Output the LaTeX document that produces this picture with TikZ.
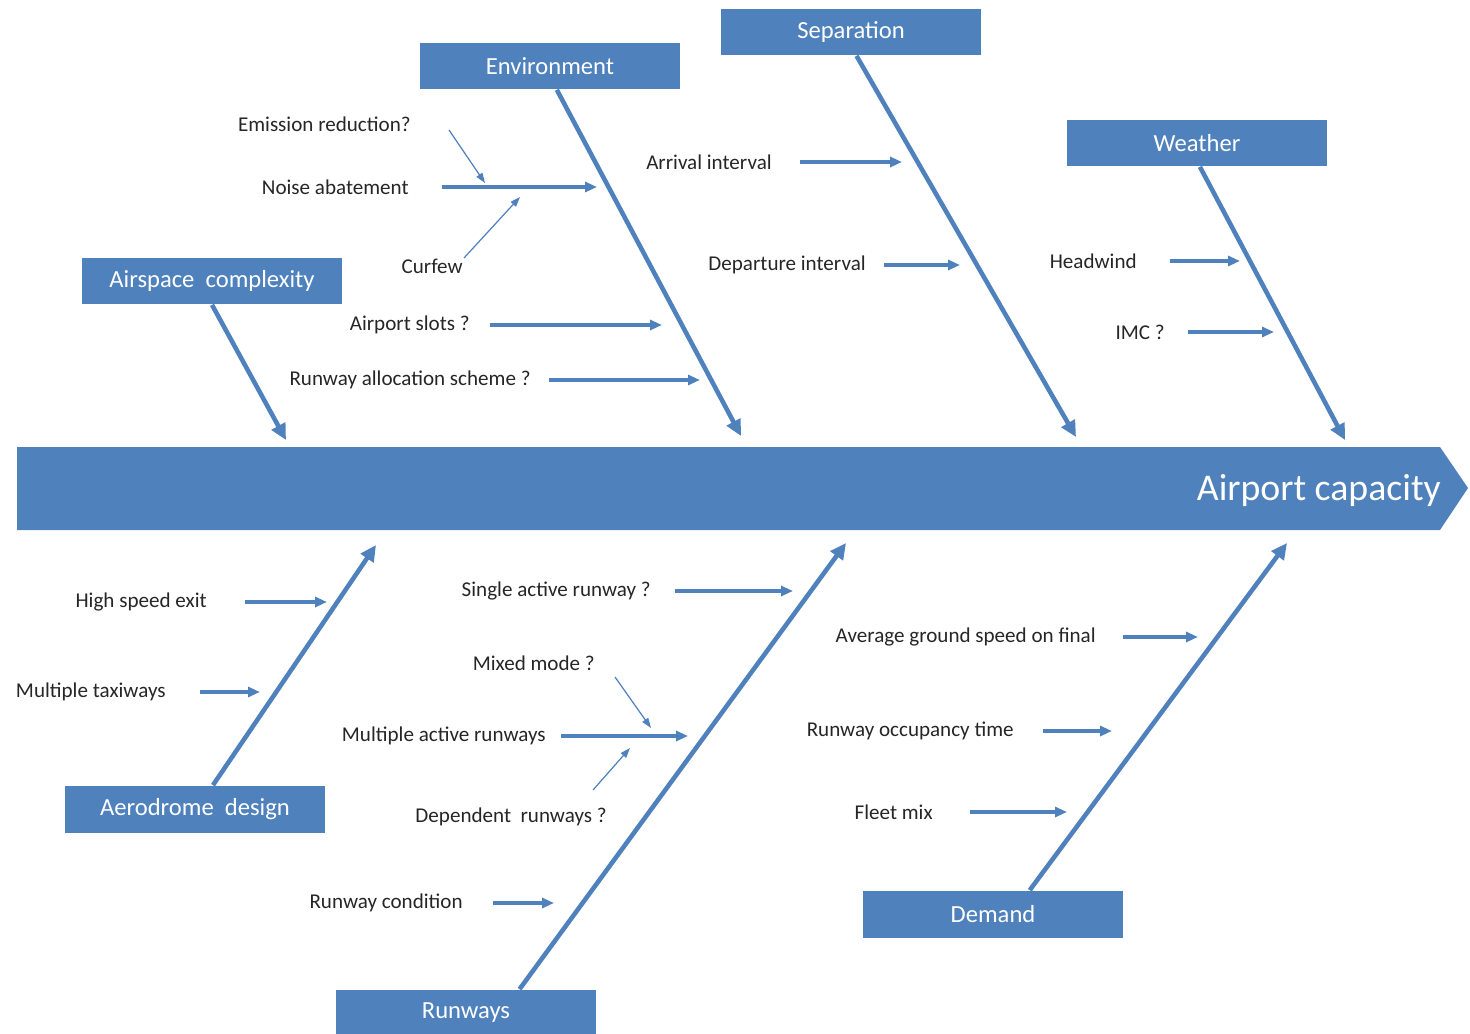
\documentclass[tikz,border=0pt]{standalone}
\usepackage{fontspec}
\setmainfont{Carlito}
\usepackage{tikz}
\usetikzlibrary{arrows.meta,positioning,calc}
\definecolor{fishblue}{HTML}{4F81BD}
\definecolor{labgray}{HTML}{262626}

\begin{document}
\begin{tikzpicture}[x=0.02cm,y=-0.02cm,
  cat/.style={fill=fishblue, text=white, minimum width=5.2cm, minimum height=0.94cm, font=\fontsize{14}{16}\selectfont},
  lab/.style={anchor=east, inner sep=0pt, text=labgray, font=\fontsize{12}{14}\selectfont},
  bone/.style={draw=fishblue, line width=2.6pt, -{Triangle[length=0.32cm,width=0.3cm]}},
  sub/.style={draw=fishblue, line width=2pt, shorten <=#1, -{Triangle[length=0.24cm,width=0.2cm]}},
  sub/.default=0.5cm,
  twig/.style={draw=fishblue, line width=0.7pt, -{Triangle[length=0.2cm,width=0.14cm]}}]
				\useasboundingbox (0,0) rectangle (1470,1034);
				
				\fill[fishblue] (17,447) -- (1440,447) -- (1468,488) -- (1440,530) -- (17,530) -- cycle;
				\node[anchor=east, text=white, font=\fontsize{21.5}{26}\selectfont] (0) at (1447,491) {Airport capacity};
				
				\node[cat] (1) at (550,66) {Environment};
				\node[cat] (2) at (851,32) {Separation};
				\node[cat] (3) at (1197,143) {Weather};
				\node[cat] (4) at (212,281) {Airspace\ \ complexity};
				\node[cat] (5) at (195,809) {Aerodrome\ \ design};
				\node[cat] (6) at (466,1013) {Runways};
				\node[cat] (7) at (993,914) {Demand};
				
				\coordinate (t1) at (741,436);
				\coordinate (t2) at (1076,437);
				\coordinate (t3) at (1345,440);
				\coordinate (t4) at (286,440);
				\coordinate (t5) at (376,545);
				\coordinate (t6) at (846,543);
				\coordinate (t7) at (1287,543);
				
				\node[lab] (11) at (411,124) {Emission reduction?};
				\node[lab] (12) at (409,187) {Noise abatement};
				\node[lab] (13) at (463,266) {Curfew};
				\node[lab] (14) at (470,325) {Airport slots ?};
				\node[lab] (15) at (531,380) {Runway allocation scheme ?};
				\node[lab] (21) at (772,162) {Arrival interval};
				\node[lab] (22) at (866,265) {Departure interval};
				\node[lab] (31) at (1137,261) {Headwind};
				\node[lab] (32) at (1165,332) {IMC ?};
				\node[lab] (51) at (207,602) {High speed exit};
				\node[lab] (52) at (166,692) {Multiple taxiways};
				\node[lab] (61) at (651,591) {Single active runway ?};
				\node[lab] (62) at (595,663) {Mixed mode ?};
				\node[lab] (63) at (546,736) {Multiple active runways};
				\node[lab] (64) at (607,817) {Dependent\ \ runways ?};
				\node[lab] (65) at (463,903) {Runway condition};
				\node[lab] (71) at (1096,637) {Average ground speed on final};
				\node[lab] (72) at (1014,731) {Runway occupancy time};
				\node[lab] (73) at (933,812) {Fleet mix};
				
				\coordinate (t11) at (485,183);
				\coordinate (t12) at (597,187);
				\coordinate (t13) at (520,197);
				\coordinate (t14) at (662,325);
				\coordinate (t15) at (700,380);
				\coordinate (t21) at (902,162);
				\coordinate (t22) at (960,265);
				\coordinate (t31) at (1240,261);
				\coordinate (t32) at (1274,332);
				\coordinate (t51) at (327,602);
				\coordinate (t52) at (260,692);
				\coordinate (t61) at (793,591);
				\coordinate (t62) at (651,728);
				\coordinate (t63) at (688,736);
				\coordinate (t64) at (630,748);
				\coordinate (t65) at (554,903);
				\coordinate (t71) at (1198,637);
				\coordinate (t72) at (1112,731);
				\coordinate (t73) at (1067,812);
				
				\path
				(1.-74) edge [bone] (t1)
				(2.-77) edge [bone] (t2)
				(3.-83) edge [bone] (t3)
				(4.south) edge [bone] (t4)
				(5.53) edge [bone] (t5)
				(6.24) edge [bone] (t6)
				(7.33) edge [bone] (t7)
				
				(12) edge [sub=0.66cm] (t12)
				(14) edge [sub=0.4cm] (t14)
				(15) edge [sub=0.36cm] (t15)
				(21) edge [sub=0.56cm] (t21)
				(22) edge [sub=0.36cm] (t22)
				(31) edge [sub=0.66cm] (t31)
				(32) edge [sub=0.46cm] (t32)
				(51) edge [sub=0.76cm] (t51)
				(52) edge [sub=0.68cm] (t52)
				(61) edge [sub=0.48cm] (t61)
				(63) edge [sub=0.3cm] (t63)
				(65) edge [sub=0.6cm] (t65)
				(71) edge [sub=0.54cm] (t71)
				(72) edge [sub=0.58cm] (t72)
				(73) edge [sub=0.74cm] (t73)
				
				($(11.east)+(38,6)$) edge [twig] (t11)
				($(13.east)+(1,-8)$) edge [twig] (t13)
				($(62.east)+(20,14)$) edge [twig] (t62)
				($(64.east)+(-14,-27)$) edge [twig] (t64);
				
\end{tikzpicture}
\end{document}
